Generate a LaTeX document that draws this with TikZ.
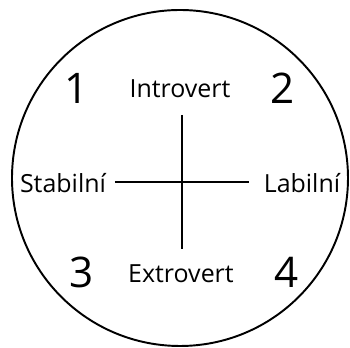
\documentclass[tikz,border=0pt]{standalone}
\usepackage{fontspec}
\setmainfont{Open Sans}
\usepackage{tikz}
\usetikzlibrary{positioning}

\tikzset{
  popis/.style={font=\fontsize{14.2}{16}\selectfont, inner sep=1pt},
  cislo/.style={font=\fontsize{24}{28}\selectfont, inner sep=0pt},
  osa/.style={line width=1.1pt}
}

\begin{document}
\begin{tikzpicture}
        \useasboundingbox (-3.64,-3.32) rectangle (3.36,3.64);
        \draw[line width=1.1pt] (-0.04,0.08) circle (3.36);
        % popisky os
        \node[popis] (intro) at (-0.04,1.86) {Introvert};
        \node[popis] (extro) at (-0.02,-1.84) {Extrovert};
        \node[popis] (stab) at (-2.38,-0.02) {Stabilní};
        \node[popis] (lab) at (2.40,-0.02) {Labilní};
        % kvadranty
        \node[cislo] (q1) at (-2.10,1.88) {1};
        \node[cislo] (q2) at (2.02,1.88) {2};
        \node[cislo] (q3) at (-2.00,-1.80) {3};
        \node[cislo] (q4) at (2.10,-1.80) {4};
        % kříž
        \coordinate (nahore) at (0,1.34);
        \coordinate (dole) at (0,-1.34);
        \coordinate (vlevo) at (-1.34,0);
        \coordinate (vpravo) at (1.34,0);
        \draw[osa] (nahore) -- (dole);
        \draw[osa] (vlevo) -- (vpravo);
      \end{tikzpicture}
\end{document}
